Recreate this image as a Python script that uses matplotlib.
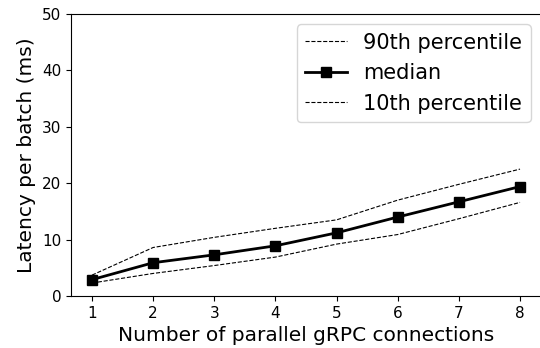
import matplotlib
matplotlib.use("Agg")
import matplotlib.pyplot as plt

connections = [1, 2, 3, 4, 5, 6, 7, 8]
p90 = [3.7, 8.6, 10.4, 12.0, 13.5, 17.0, 19.8, 22.5]
median = [2.9, 5.9, 7.3, 8.9, 11.2, 14.0, 16.7, 19.4]
p10 = [2.3, 4.0, 5.4, 6.9, 9.2, 10.9, 13.7, 16.6]

fig = plt.figure(figsize=(5.4, 3.48), dpi=100)
ax = fig.add_axes([71/540, 1 - 296/348, 470/540, 282/348])
ax.plot(connections, p90, 'k--', lw=0.8, label='90th percentile')
ax.plot(connections, median, 'k-', lw=2, marker='s', markersize=6.5, label='median')
ax.plot(connections, p10, 'k--', lw=0.8, label='10th percentile')
ax.set_ylim(0, 50)
ax.set_xlim(0.657, 8.343)
ax.set_xticks(connections)
ax.tick_params(labelsize=11)
ax.set_xlabel('Number of parallel gRPC connections', fontsize=14.5)
ax.set_ylabel('Latency per batch (ms)', fontsize=14.5)
ax.legend(fontsize=15, loc='upper right')
fig.savefig('out.png', dpi=100)
